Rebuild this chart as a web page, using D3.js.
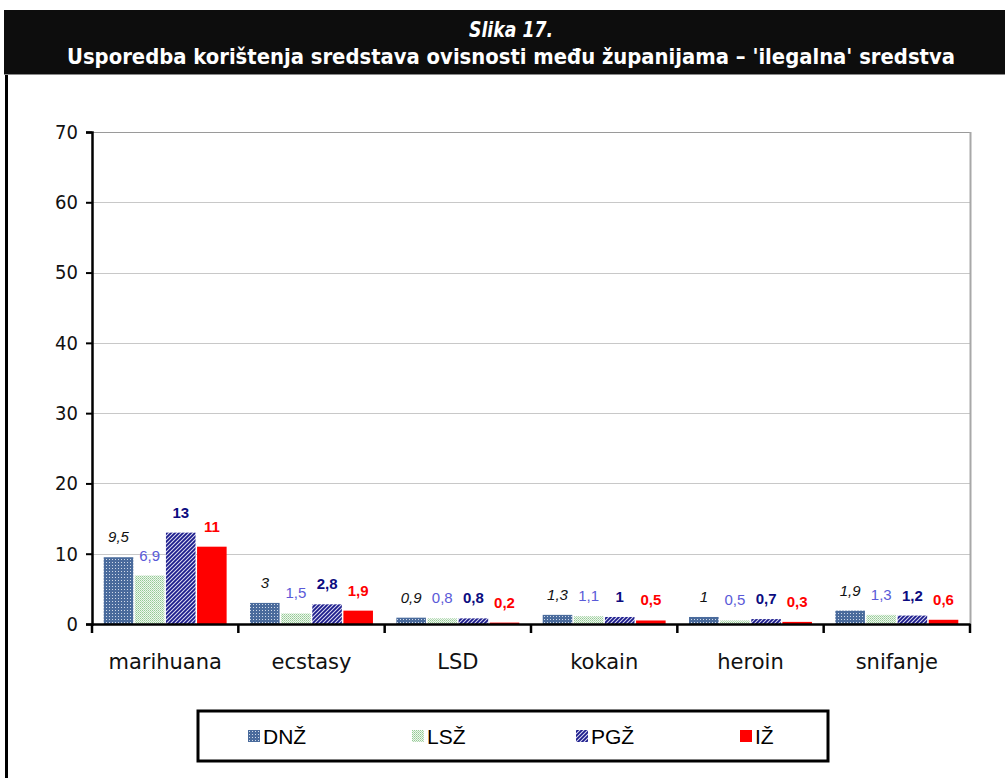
<!DOCTYPE html>
<html>
<head>
<meta charset="utf-8">
<script src="https://cdn.jsdelivr.net/npm/d3@7"></script>
<style>
  body { margin: 0; background: #fff; }
  svg { display: block; }
</style>
</head>
<body>
<svg id="chart"></svg>
<script>
var categories = ["marihuana", "ecstasy", "LSD", "kokain", "heroin", "snifanje"];
var seriesNames = ["DNŽ", "LSŽ", "PGŽ", "IŽ"];
var valuesDNZ = [9.5, 3, 0.9, 1.3, 1, 1.9];
var valuesLSZ = [6.9, 1.5, 0.8, 1.1, 0.5, 1.3];
var valuesPGZ = [13, 2.8, 0.8, 1, 0.7, 1.2];
var valuesIZ = [11, 1.9, 0.2, 0.5, 0.3, 0.6];
var labelsDNZ = ["9,5", "3", "0,9", "1,3", "1", "1,9"];
var labelsLSZ = ["6,9", "1,5", "0,8", "1,1", "0,5", "1,3"];
var labelsPGZ = ["13", "2,8", "0,8", "1", "0,7", "1,2"];
var labelsIZ = ["11", "1,9", "0,2", "0,5", "0,3", "0,6"];
var yTicks = [0, 10, 20, 30, 40, 50, 60, 70];

var W = 1005, H = 778;
var plotL = 92, plotR = 970, plotT = 132, plotB = 624;

var svg = d3.select("#chart").attr("width", W).attr("height", H);

// patterns
var defs = svg.append("defs");
var pDNZ = defs.append("pattern").attr("id", "pat-dnz")
  .attr("patternUnits", "userSpaceOnUse").attr("width", 3).attr("height", 3);
pDNZ.append("rect").attr("width", 3).attr("height", 3).attr("fill", "#4a6b9c");
pDNZ.append("rect").attr("x", 1).attr("y", 1).attr("width", 1).attr("height", 1).attr("fill", "#d0dae9");

var pLSZ = defs.append("pattern").attr("id", "pat-lsz")
  .attr("patternUnits", "userSpaceOnUse").attr("width", 2).attr("height", 2);
pLSZ.append("rect").attr("width", 2).attr("height", 2).attr("fill", "#eef7ee");
pLSZ.append("rect").attr("width", 1).attr("height", 1).attr("fill", "#94c994");
pLSZ.append("rect").attr("x", 1).attr("y", 1).attr("width", 1).attr("height", 1).attr("fill", "#b2d9b2");

var pPGZ = defs.append("pattern").attr("id", "pat-pgz")
  .attr("patternUnits", "userSpaceOnUse").attr("width", 4).attr("height", 4);
pPGZ.append("rect").attr("width", 4).attr("height", 4).attr("fill", "#dcdcf2");
pPGZ.append("path").attr("d", "M-1,1 L1,-1 M0,4 L4,0 M3,5 L5,3")
  .attr("stroke", "#1c1c8c").attr("stroke-width", 1.8);

var fills = ["url(#pat-dnz)", "url(#pat-lsz)", "url(#pat-pgz)", "#ff0000"];
var labelColors = ["#111111", "#5a5ad8", "#0c0c80", "#ff0000"];
var labelStyles = ["italic", "normal", "normal", "normal"];
var labelWeights = ["normal", "normal", "bold", "bold"];

var allValues = [valuesDNZ, valuesLSZ, valuesPGZ, valuesIZ];
var allLabels = [labelsDNZ, labelsLSZ, labelsPGZ, labelsIZ];

var data = [];
categories.forEach(function (c, ci) {
  seriesNames.forEach(function (s, si) {
    data.push({ cat: c, ser: s, si: si, value: allValues[si][ci], label: allLabels[si][ci] });
  });
});

// title box
svg.append("rect").attr("x", 4).attr("y", 10).attr("width", W - 4).attr("height", 64).attr("fill", "#0d0d0d");
svg.append("line").attr("x1", 4).attr("x2", W).attr("y1", 74.5).attr("y2", 74.5)
  .attr("stroke", "#8a8a8a").attr("stroke-width", 1);
svg.append("text").attr("x", 511).attr("y", 37)
  .attr("text-anchor", "middle").attr("fill", "#fff")
  .attr("textLength", 84).attr("lengthAdjust", "spacingAndGlyphs")
  .style("font-family", "'DejaVu Sans Condensed', 'DejaVu Sans', sans-serif")
  .style("font-size", "21px").style("font-weight", "bold").style("font-style", "italic")
  .text("Slika 17.");
svg.append("text").attr("x", 511).attr("y", 64)
  .attr("text-anchor", "middle").attr("fill", "#fff")
  .attr("textLength", 888).attr("lengthAdjust", "spacingAndGlyphs")
  .style("font-family", "'DejaVu Sans Condensed', 'DejaVu Sans', sans-serif")
  .style("font-size", "21px").style("font-weight", "bold")
  .text("Usporedba korištenja sredstava ovisnosti među županijama – 'ilegalna' sredstva");

// frame left border
svg.append("line").attr("x1", 6.5).attr("x2", 6.5).attr("y1", 75).attr("y2", H)
  .attr("stroke", "#000").attr("stroke-width", 3);

// scales
var x0 = d3.scaleBand().domain(categories).range([plotL, plotR]).padding(0);
var x1 = d3.scaleBand().domain(seriesNames)
  .range([x0.bandwidth() * 0.08, x0.bandwidth() * 0.92]).paddingInner(0.05);
var y = d3.scaleLinear().domain([0, 70]).range([plotB, plotT]);

// grid
svg.append("g").selectAll("line").data(yTicks.filter(function (d) { return d > 0; }))
  .enter().append("line")
  .attr("x1", plotL).attr("x2", plotR)
  .attr("y1", function (d) { return Math.round(y(d)) + 0.5; })
  .attr("y2", function (d) { return Math.round(y(d)) + 0.5; })
  .attr("stroke", function (d) { return d === 70 ? "#9a9a9a" : "#c8c8c8"; })
  .attr("stroke-width", 1);
svg.append("line").attr("x1", plotR + 0.5).attr("x2", plotR + 0.5)
  .attr("y1", plotT).attr("y2", plotB)
  .attr("stroke", "#a8a8a8").attr("stroke-width", 2);

// bars
svg.append("g").selectAll("rect").data(data).enter().append("rect")
  .attr("x", function (d) { return x0(d.cat) + x1(d.ser); })
  .attr("y", function (d) { return y(d.value); })
  .attr("width", x1.bandwidth())
  .attr("height", function (d) { return plotB - y(d.value); })
  .attr("fill", function (d) { return fills[d.si]; });

// value labels
svg.append("g").selectAll("text").data(data).enter().append("text")
  .attr("x", function (d) { return x0(d.cat) + x1(d.ser) + x1.bandwidth() / 2; })
  .attr("y", function (d) { return y(d.value) - 15; })
  .attr("text-anchor", "middle")
  .attr("fill", function (d) { return labelColors[d.si]; })
  .style("font-family", "'Liberation Sans', Arial, sans-serif")
  .style("font-size", "15px")
  .style("font-style", function (d) { return labelStyles[d.si]; })
  .style("font-weight", function (d) { return labelWeights[d.si]; })
  .text(function (d) { return d.label; });

// y axis
var yAxis = d3.axisLeft(y).tickValues(yTicks).tickSize(6).tickPadding(8)
  .tickFormat(function (d) { return d; });
var gy = svg.append("g").attr("transform", "translate(" + plotL + ",0)").call(yAxis);
gy.select(".domain").attr("stroke", "#000").attr("stroke-width", 2.5);
gy.selectAll(".tick line").attr("stroke", "#000").attr("stroke-width", 2);
gy.selectAll(".tick text").attr("fill", "#111")
  .style("font-family", "'DejaVu Sans Condensed', 'DejaVu Sans', sans-serif").style("font-size", "20px");

// x axis
var xAxis = d3.axisBottom(x0).tickSize(0).tickPadding(30);
var gx = svg.append("g").attr("transform", "translate(0," + plotB + ")").call(xAxis);
gx.select(".domain").attr("stroke", "#000").attr("stroke-width", 2.5);
gx.selectAll(".tick text").attr("fill", "#111")
  .style("font-family", "'DejaVu Sans', sans-serif").style("font-size", "21px");
var bounds = categories.map(function (c) { return x0(c); }).concat([plotR]);
gx.selectAll(".bound").data(bounds).enter().append("line").attr("class", "bound")
  .attr("x1", function (d) { return d; }).attr("x2", function (d) { return d; })
  .attr("y1", 0).attr("y2", 9)
  .attr("stroke", "#000").attr("stroke-width", 2.5);

// legend
var legend = svg.append("g");
legend.append("rect").attr("x", 198).attr("y", 711).attr("width", 630).attr("height", 50)
  .attr("fill", "#fff").attr("stroke", "#000").attr("stroke-width", 3);
var legX = d3.scalePoint().domain(seriesNames).range([248, 740]);
var items = legend.selectAll(".item").data(seriesNames).enter().append("g").attr("class", "item")
  .attr("transform", function (d) { return "translate(" + legX(d) + ",736)"; });
items.append("rect").attr("x", 0).attr("y", -6).attr("width", 12).attr("height", 12)
  .attr("fill", function (d, i) { return fills[i]; });
items.append("text").attr("x", 15).attr("y", 8)
  .attr("fill", "#000")
  .style("font-family", "'Liberation Sans', Arial, sans-serif").style("font-size", "21px")
  .text(function (d) { return d; });
</script>
</body>
</html>
